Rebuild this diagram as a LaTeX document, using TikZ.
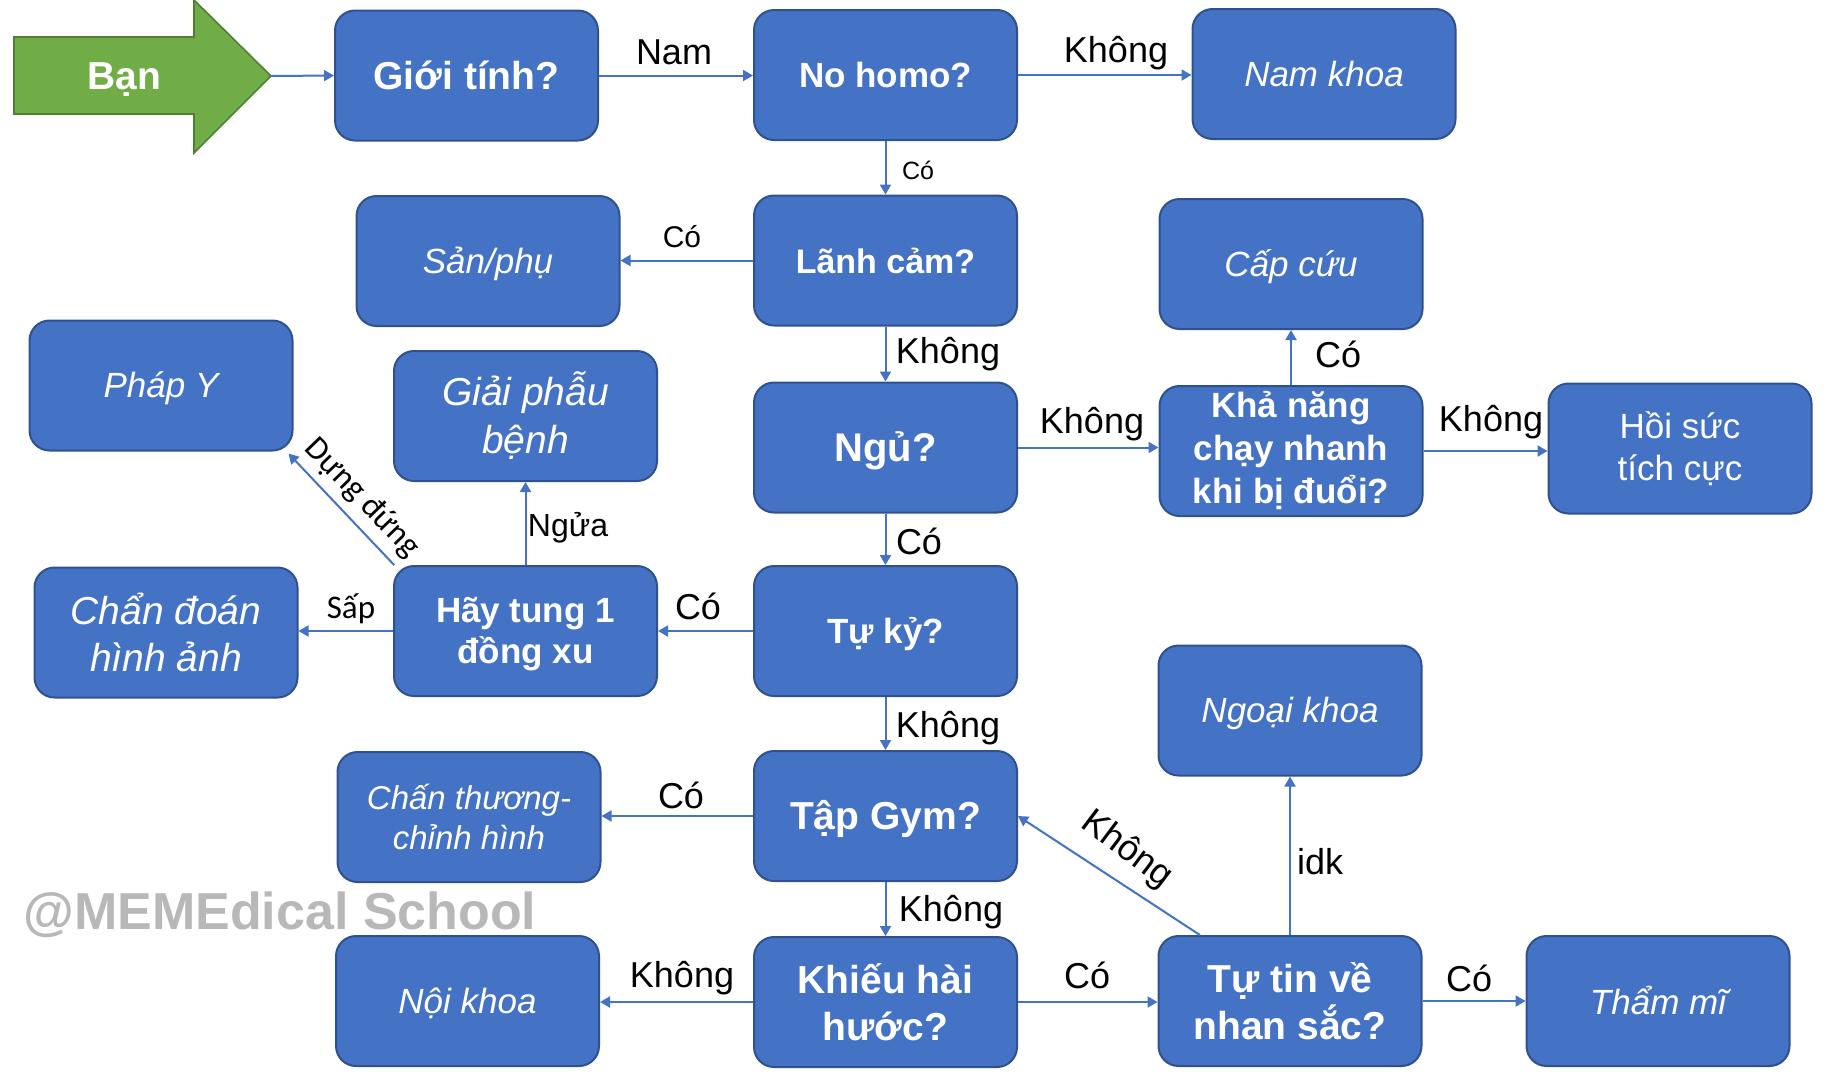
\documentclass[tikz,border=0pt]{standalone}
\usepackage{fontspec}
\setmainfont{Liberation Sans}
\newfontfamily\calib{Carlito}
\usetikzlibrary{arrows.meta,calc}
\definecolor{boxfill}{HTML}{4472C4}
\definecolor{boxborder}{HTML}{2F528F}
\definecolor{linec}{HTML}{4472C4}
\definecolor{greenfill}{HTML}{70AD47}
\definecolor{greenborder}{HTML}{507E32}
\definecolor{wmark}{HTML}{B8B8B8}
\newcommand{\dn}[2]{\raisebox{-#1}[\height][\depth]{#2}}
\newcommand{\twol}[2]{\begin{tabular}{@{}c@{}}#1\\#2\end{tabular}}
\tikzset{
  box/.style={draw=boxborder, line width=1pt, fill=boxfill, rounded corners=10pt,
    minimum width=131.5pt, minimum height=65pt, text=white, align=center, inner sep=0pt},
  qbox/.style={box, font=\bfseries\fontsize{19.5}{23.5}\selectfont},
  abox/.style={box, font=\itshape\fontsize{17.5}{21}\selectfont},
  lbl/.style={font=\fontsize{18}{21}\selectfont, inner sep=0pt, text=black},
  clbl/.style={font=\calib\fontsize{16.5}{20}\selectfont, inner sep=0pt, text=black},
  conn/.style={draw=linec, line width=1pt, -{Triangle[length=5pt,width=5.5pt]}}
}
\begin{document}
\begin{tikzpicture}[x=0.5pt,y=-0.5pt]
\useasboundingbox (0,0) rectangle (1839,1077);
% start arrow
\draw[fill=greenfill, draw=greenborder, line width=0.8pt]
  (14,37) -- (194,37) -- (194,0) -- (271,76) -- (194,153) -- (194,114) -- (14,114) -- cycle;
\node[text=white, font=\bfseries\fontsize{19.5}{23}\selectfont, inner sep=0pt] (ban) at (124,80) {Bạn};
\coordinate (bantip) at (271,76);
% boxes
\node[qbox] (gioi) at (466.5,75.5) {Giới tính?};
\node[qbox, font=\bfseries\fontsize{17.5}{21}\selectfont] (nohomo) at (885.5,75) {No homo?};
\node[abox] (namkhoa) at (1324,74) {Nam khoa};
\node[abox] (sanphu) at (488,261) {\dn{1.5pt}{Sản/phụ}};
\node[qbox, font=\bfseries\fontsize{17}{21}\selectfont] (lanhcam) at (885.5,260.5) {Lãnh cảm?};
\node[abox] (capcuu) at (1291,264) {\dn{1.5pt}{Cấp cứu}};
\node[abox] (phapy) at (161,385.5) {\dn{1.5pt}{Pháp Y}};
\node[abox, font=\itshape\fontsize{19.5}{24}\selectfont] (giaiphau) at (525.5,416) {Giải phẫu\\bệnh};
\node[qbox, font=\bfseries\fontsize{20}{24}\selectfont] (ngu) at (885.5,447.5) {\dn{1.5pt}{Ngủ?}};
\node[qbox, font=\bfseries\fontsize{17.5}{21.5}\selectfont] (khanang) at (1291,451) {Khả năng\\chạy nhanh\\khi bị đuổi?};
\node[box, font=\fontsize{17.5}{21}\selectfont] (hoisuc) at (1680,448.5) {Hồi sức\\tích cực};
\node[abox, font=\itshape\fontsize{19.5}{23.5}\selectfont] (chandoan) at (166,632.5) {Chẩn đoán\\hình ảnh};
\node[qbox, font=\bfseries\fontsize{17.5}{20.5}\selectfont] (hay) at (525.5,631) {\dn{2pt}{\twol{Hãy tung 1}{đồng xu}}};
\node[qbox, font=\bfseries\fontsize{17.5}{21}\selectfont] (tuky) at (885.5,631) {\dn{1.5pt}{Tự kỷ?}};
\node[abox, font=\itshape\fontsize{16.5}{20}\selectfont] (chanthuong) at (469,817) {Chấn thương-\\chỉnh hình};
\node[qbox] (tapgym) at (885.5,816) {\dn{1.5pt}{Tập Gym?}};
\node[abox] (ngoai) at (1290,710.5) {\dn{1.5pt}{Ngoại khoa}};
\node[abox] (noikhoa) at (467.5,1001) {\dn{1pt}{Nội khoa}};
\node[qbox] (khieu) at (885.5,1002) {Khiếu hài\\hước?};
\node[qbox] (tutin) at (1290,1001) {Tự tin về\\nhan sắc?};
\node[abox] (thammi) at (1658,1001) {Thẩm mĩ};
% watermark
\node[anchor=base west, inner sep=0pt, text=wmark, font=\bfseries\fontsize{26}{30}\selectfont] (wm) at (23,929) {@MEMEdical School};
% connectors
\draw[conn] (bantip) -- (gioi.west);
\draw[conn] (gioi.east) -- (gioi.east -| nohomo.west);
\draw[conn] (nohomo.east) -- (nohomo.east -| namkhoa.west);
\draw[conn] (nohomo.south) -- (lanhcam.north);
\draw[conn] (lanhcam.west) -- (lanhcam.west -| sanphu.east);
\draw[conn] (lanhcam.south) -- (ngu.north);
\draw[conn] (ngu.east) -- (ngu.east -| khanang.west);
\draw[conn] (khanang.north) -- (capcuu.south);
\draw[conn] (khanang.east) -- (khanang.east -| hoisuc.west);
\draw[conn] (ngu.south) -- (tuky.north);
\draw[conn] (tuky.west) -- (tuky.west -| hay.east);
\draw[conn] (hay.west) -- (hay.west -| chandoan.east);
\draw[conn] (hay.north) -- (giaiphau.south);
\draw[conn, shorten <=2pt] ($(hay.north west)+(4,3)$) -- ($(phapy.south east)+(-5,2)$);
\draw[conn] (tuky.south) -- (tapgym.north);
\draw[conn] (tapgym.west) -- (tapgym.west -| chanthuong.east);
\draw[conn] (tapgym.south) -- (khieu.north);
\draw[conn] (khieu.west) -- (khieu.west -| noikhoa.east);
\draw[conn] (khieu.east) -- (khieu.east -| tutin.west);
\draw[conn] (tutin.east) -- (tutin.east -| thammi.west);
\draw[conn] (tutin.north) -- (ngoai.south);
\draw[conn] ($(tutin.north west)!0.16!(tutin.north east)$) -- (tapgym.east);
% labels
\node[lbl] (l1) at (674,52) {Nam};
\node[lbl] (l2) at (1116,53) {Không};
\node[lbl, font=\fontsize{12.5}{15}\selectfont] (l3) at (918,170) {Có};
\node[lbl, font=\fontsize{15}{18}\selectfont] (l4) at (682,237) {Có};
\node[lbl] (l5) at (948,354) {Không};
\node[lbl] (l6) at (1338,354) {Có};
\node[lbl] (l7) at (1092,424) {Không};
\node[lbl] (l8) at (1491,422) {Không};
\node[lbl] (l9) at (919,541) {Có};
\node[lbl, font=\fontsize{16}{19}\selectfont] (l10) at (568,528) {Ngửa};
\node[clbl, rotate=-46] (l11) at (362,498) {Dựng đứng};
\node[clbl] (l12) at (351,609) {Sấp};
\node[lbl] (l13) at (698,606) {Có};
\node[lbl] (l14) at (948,728) {Không};
\node[lbl] (l15) at (681,795) {Có};
\node[lbl, rotate=-37] (l16) at (1127,850) {Không};
\node[lbl] (l17) at (1320,862) {idk};
\node[lbl] (l18) at (951,912) {Không};
\node[lbl] (l19) at (682,978) {Không};
\node[lbl] (l20) at (1087,975) {Có};
\node[lbl] (l21) at (1469,978) {Có};
\end{tikzpicture}
\end{document}
